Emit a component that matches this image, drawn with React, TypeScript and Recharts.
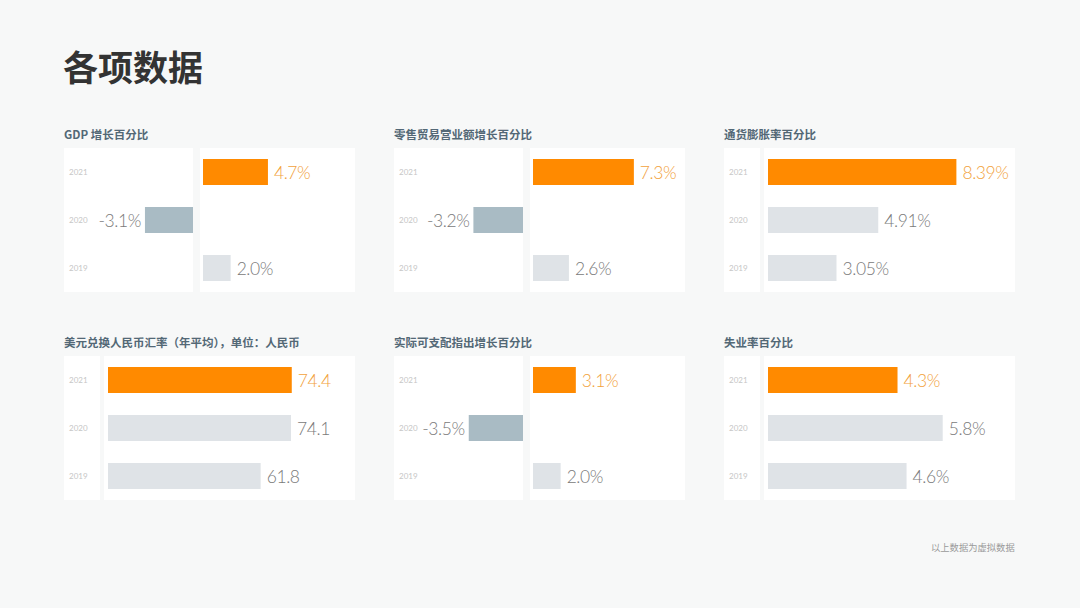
import { BarChart, Bar, XAxis, YAxis, Cell, LabelList } from "recharts";

const YEARS = ["2021", "2020", "2019"];
const GDP_GROWTH = [4.7, -3.1, 2.0];
const RETAIL_GROWTH = [7.3, -3.2, 2.6];
const INFLATION = [8.39, 4.91, 3.05];
const USD_CNY = [74.4, 74.1, 61.8];
const INCOME_GROWTH = [3.1, -3.5, 2.0];
const UNEMPLOYMENT = [4.3, 5.8, 4.6];

const TITLES = [
  "GDP 增长百分比",
  "零售贸易营业额增长百分比",
  "通货膨胀率百分比",
  "美元兑换人民币汇率（年平均），单位：人民币",
  "实际可支配指出增长百分比",
  "失业率百分比",
];

const ORANGE = "#ff8a00";
const NEG = "#a9bbc4";
const LIGHT = "#dfe3e7";
const CJK = '"Noto Sans CJK SC", "Noto Sans", sans-serif';
const NUM = 'Lato, Roboto, "Noto Sans", sans-serif';

interface PanelDef {
  title: string;
  values: number[];
  decimals: number;
  suffix: string;
  split: boolean;
  posMax: number;
  negMax: number;
}

const PANELS: PanelDef[] = [
  { title: TITLES[0], values: GDP_GROWTH, decimals: 1, suffix: "%", split: true, posMax: 11, negMax: 6 },
  { title: TITLES[1], values: RETAIL_GROWTH, decimals: 1, suffix: "%", split: true, posMax: 11, negMax: 6 },
  { title: TITLES[2], values: INFLATION, decimals: 2, suffix: "%", split: false, posMax: 11, negMax: 0 },
  { title: TITLES[3], values: USD_CNY, decimals: 1, suffix: "", split: false, posMax: 100, negMax: 0 },
  { title: TITLES[4], values: INCOME_GROWTH, decimals: 1, suffix: "%", split: true, posMax: 11, negMax: 6 },
  { title: TITLES[5], values: UNEMPLOYMENT, decimals: 1, suffix: "%", split: false, posMax: 8.2, negMax: 0 },
];

const COL_X = [64, 394, 724];
const ROW_Y = [148, 356];
const CARD_W = 291;
const CARD_H = 144;

function barColor(v: number, i: number) {
  if (i === 0) return ORANGE;
  if (v < 0) return NEG;
  return LIGHT;
}

const yearTick = (props: any) => (
  <text x={5} y={props.y} dy={3} fontSize={8} fill="#c6c6c6" fontFamily={NUM}>
    {props.payload.value}
  </text>
);

function makeLabel(p: PanelDef) {
  return (props: any) => {
    const { x, y, width, height, value } = props;
    if (value == null) return null;
    const v = Number(value);
    const l = Math.min(x, x + width);
    const r = Math.max(x, x + width);
    const text = v.toFixed(p.decimals) + p.suffix;
    // the latest year is highlighted
    const latest = v === p.values[0];
    return (
      <text
        x={v < 0 ? l - 4 : r + 6}
        y={y + height / 2}
        dy={6.5}
        textAnchor={v < 0 ? "end" : "start"}
        fontSize={17.5}
        fontWeight={300}
        fontFamily={NUM}
        letterSpacing={-0.4}
        fill={latest ? "#f2a23c" : "#7a7a7a"}
      >
        {text}
      </text>
    );
  };
}

function Panel({ p, left, top }: { p: PanelDef; left: number; top: number }) {
  const rows = YEARS.map((year, i) => ({
    year,
    value: p.values[i],
    pos: p.values[i] > 0 ? p.values[i] : null,
    neg: p.values[i] < 0 ? p.values[i] : null,
  }));
  const leftW = p.split ? 129 : 36;
  const gap = p.split ? 7 : 4;
  const rightW = CARD_W - leftW - gap;

  return (
    <>
      <div
        style={{
          position: "absolute", left, top: top - 21, fontSize: 11.5, lineHeight: "14px",
          fontWeight: 700, color: "#536876", fontFamily: CJK, whiteSpace: "nowrap",
        }}
      >
        {p.title}
      </div>
      <div style={{ position: "absolute", left, top, width: leftW, height: CARD_H, background: "#fff" }} />
      <div style={{ position: "absolute", left: left + leftW + gap, top, width: rightW, height: CARD_H, background: "#fff" }} />
      {p.split ? (
        <>
          <div style={{ position: "absolute", left, top }}>
            <BarChart layout="vertical" width={leftW} height={CARD_H} data={rows} margin={{ top: 0, right: 0, bottom: 0, left: 0 }}>
              <XAxis type="number" hide domain={[-p.negMax, 0]} />
              <YAxis type="category" dataKey="year" width={36} axisLine={false} tickLine={false} tick={yearTick} />
              <Bar dataKey="neg" barSize={26} isAnimationActive={false}>
                {rows.map((r, i) => (
                  <Cell key={i} fill={barColor(r.value, i)} />
                ))}
                <LabelList dataKey="neg" content={makeLabel(p)} />
              </Bar>
            </BarChart>
          </div>
          <div style={{ position: "absolute", left: left + leftW + gap, top }}>
            <BarChart layout="vertical" width={rightW} height={CARD_H} data={rows} margin={{ top: 0, right: 0, bottom: 0, left: 3 }}>
              <XAxis type="number" hide domain={[0, p.posMax]} />
              <YAxis type="category" dataKey="year" hide />
              <Bar dataKey="pos" barSize={26} isAnimationActive={false}>
                {rows.map((r, i) => (
                  <Cell key={i} fill={barColor(r.value, i)} />
                ))}
                <LabelList dataKey="pos" content={makeLabel(p)} />
              </Bar>
            </BarChart>
          </div>
        </>
      ) : (
        <div style={{ position: "absolute", left, top }}>
          <BarChart layout="vertical" width={CARD_W} height={CARD_H} data={rows} margin={{ top: 0, right: 0, bottom: 0, left: 0 }}>
            <XAxis type="number" hide domain={[0, p.posMax]} />
            <YAxis type="category" dataKey="year" width={leftW + gap + 4} axisLine={false} tickLine={false} tick={yearTick} />
            <Bar dataKey="value" barSize={26} isAnimationActive={false}>
              {rows.map((r, i) => (
                <Cell key={i} fill={barColor(r.value, i)} />
              ))}
              <LabelList dataKey="value" content={makeLabel(p)} />
            </Bar>
          </BarChart>
        </div>
      )}
    </>
  );
}

export default function App() {
  return (
    <div style={{ position: "absolute", left: 0, top: 0, width: 1080, height: 608, background: "#f7f8f8", overflow: "hidden" }}>
      <div
        style={{
          position: "absolute", left: 63, top: 47, fontSize: 35, lineHeight: "38px",
          fontWeight: 700, color: "#333", fontFamily: CJK,
        }}
      >
        各项数据
      </div>
      {PANELS.map((p, i) => (
        <Panel key={p.title} p={p} left={COL_X[i % 3]} top={ROW_Y[Math.floor(i / 3)]} />
      ))}
      <div
        style={{
          position: "absolute", left: 931, top: 541, fontSize: 9.3, lineHeight: "12px",
          color: "#9a9a9a", fontFamily: CJK, whiteSpace: "nowrap",
        }}
      >
        以上数据为虚拟数据
      </div>
    </div>
  );
}
